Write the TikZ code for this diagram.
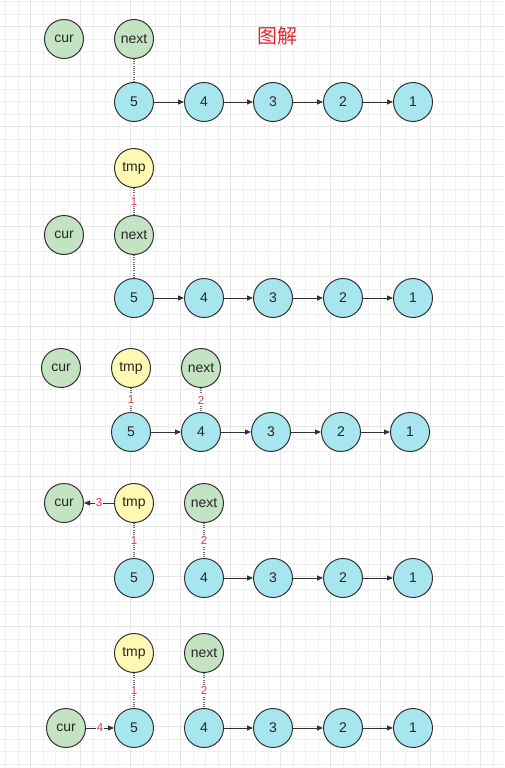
\documentclass[tikz,border=0pt]{standalone}
\usepackage{fontspec}
\setmainfont{Liberation Sans}
\newfontfamily\cjk{Noto Sans CJK SC}
\usetikzlibrary{arrows.meta}
\definecolor{gfill}{HTML}{C4E3C2}
\definecolor{cfill}{HTML}{A8E6EF}
\definecolor{yfill}{HTML}{FFF9B3}
\definecolor{strokec}{HTML}{333333}
\definecolor{dotc}{HTML}{707070}
\definecolor{redc}{HTML}{D63A4A}
\definecolor{titlec}{HTML}{E3262D}
\definecolor{minorc}{HTML}{F0F0F0}
\definecolor{majorc}{HTML}{E5E5E5}
\tikzset{
  nd/.style={circle, draw=strokec, line width=1pt, minimum size=39pt, inner sep=0pt, text=black!85, font=\fontsize{14}{16}\selectfont},
  gn/.style={nd, fill=gfill},
  cy/.style={nd, fill=cfill},
  yl/.style={nd, fill=yfill},
  arr/.style={draw=strokec, line width=1pt, -{Triangle[length=6pt,width=5pt]}},
  dotline/.style={draw=dotc, line width=1.1pt, dash pattern=on 1pt off 1.2pt},
  lbl/.style={font=\fontsize{11.5}{13}\selectfont, text=redc, fill=white, inner sep=1pt},
}
\begin{document}
\begin{tikzpicture}[x=1pt,y=-1pt]
\useasboundingbox (0,0) rectangle (504,768);
\fill[white] (0,0) rectangle (504,768);
% grid
\foreach \i in {0,...,40} {\draw[minorc, line width=0.8pt] (5.7+12.5*\i,0) -- (5.7+12.5*\i,768);}
\foreach \i in {0,...,61} {\draw[minorc, line width=0.8pt] (0,1.7+12.5*\i) -- (504,1.7+12.5*\i);}
\foreach \i in {0,...,9} {\draw[majorc, line width=1pt] (30.7+50*\i,0) -- (30.7+50*\i,768);}
\foreach \i in {0,...,15} {\draw[majorc, line width=1pt] (0,26.7+50*\i) -- (504,26.7+50*\i);}

\node[text=titlec, font=\cjk\fontsize{20}{22}\selectfont] (title) at (277,36) {图解};

% Row 1
\node[gn] (acur) at (64,39) {cur};
\node[gn] (anext) at (134,39) {next};
\node[cy] (a5) at (134,102) {5};
\node[cy] (a4) at (204,102) {4};
\node[cy] (a3) at (273,102) {3};
\node[cy] (a2) at (343,102) {2};
\node[cy] (a1) at (413,102) {1};
\draw[dotline] (anext) -- (a5);
\draw[arr] (a5) -- (a4);
\draw[arr] (a4) -- (a3);
\draw[arr] (a3) -- (a2);
\draw[arr] (a2) -- (a1);

% Row 2
\node[yl] (btmp) at (134,168) {tmp};
\node[gn] (bcur) at (64,235) {cur};
\node[gn] (bnext) at (134,235) {next};
\node[cy] (b5) at (134,298) {5};
\node[cy] (b4) at (204,298) {4};
\node[cy] (b3) at (273,298) {3};
\node[cy] (b2) at (343,298) {2};
\node[cy] (b1) at (413,298) {1};
\draw[dotline] (btmp) -- node[lbl] {1} (bnext);
\draw[dotline] (bnext) -- (b5);
\draw[arr] (b5) -- (b4);
\draw[arr] (b4) -- (b3);
\draw[arr] (b3) -- (b2);
\draw[arr] (b2) -- (b1);

% Row 3
\node[gn] (ccur) at (61,368) {cur};
\node[yl] (ctmp) at (131,368) {tmp};
\node[gn] (cnext) at (201,368) {next};
\node[cy] (c5) at (131,432) {5};
\node[cy] (c4) at (201,432) {4};
\node[cy] (c3) at (271,432) {3};
\node[cy] (c2) at (341,432) {2};
\node[cy] (c1) at (410,432) {1};
\draw[dotline] (ctmp) -- node[lbl] {1} (c5);
\draw[dotline] (cnext) -- node[lbl] {2} (c4);
\draw[arr] (c5) -- (c4);
\draw[arr] (c4) -- (c3);
\draw[arr] (c3) -- (c2);
\draw[arr] (c2) -- (c1);

% Row 4
\node[gn] (dcur) at (64,503) {cur};
\node[yl] (dtmp) at (134,503) {tmp};
\node[gn] (dnext) at (204,503) {next};
\node[cy] (d5) at (134,578) {5};
\node[cy] (d4) at (204,578) {4};
\node[cy] (d3) at (273,578) {3};
\node[cy] (d2) at (343,578) {2};
\node[cy] (d1) at (413,578) {1};
\draw[arr] (dtmp) -- node[lbl] {3} (dcur);
\draw[dotline] (dtmp) -- node[lbl] {1} (d5);
\draw[dotline] (dnext) -- node[lbl] {2} (d4);
\draw[arr] (d4) -- (d3);
\draw[arr] (d3) -- (d2);
\draw[arr] (d2) -- (d1);

% Row 5
\node[yl] (etmp) at (134,653) {tmp};
\node[gn] (enext) at (204,653) {next};
\node[gn] (ecur) at (66,728) {cur};
\node[cy] (e5) at (134,728) {5};
\node[cy] (e4) at (204,728) {4};
\node[cy] (e3) at (273,728) {3};
\node[cy] (e2) at (343,728) {2};
\node[cy] (e1) at (413,728) {1};
\draw[dotline] (etmp) -- node[lbl] {1} (e5);
\draw[dotline] (enext) -- node[lbl] {2} (e4);
\draw[arr] (ecur) -- node[lbl] {4} (e5);
\draw[arr] (e4) -- (e3);
\draw[arr] (e3) -- (e2);
\draw[arr] (e2) -- (e1);
\end{tikzpicture}
\end{document}
